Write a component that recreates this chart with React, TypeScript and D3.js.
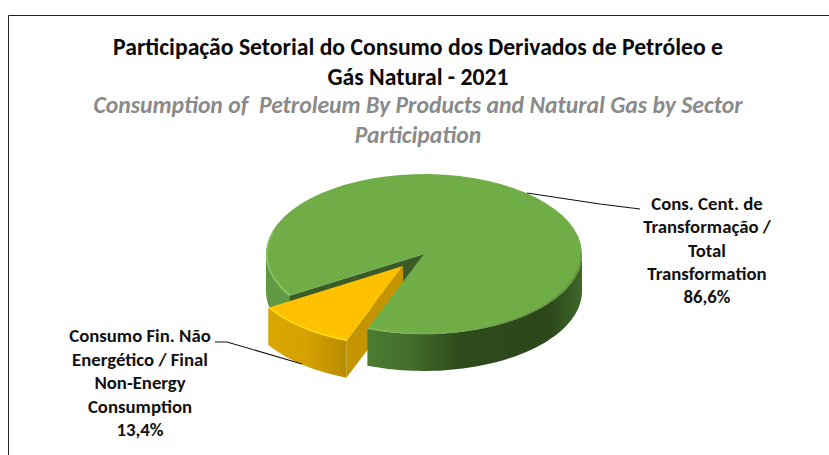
import React from "react";
import * as d3 from "d3";

const sectors = ["Consumo Fin. Não Energético", "Cons. Cent. de Transformação"];
const shares = [13.4, 86.6];
const topColors = ["#ffc000", "#70ad47"];
const titleLines = ["Participação Setorial do Consumo dos Derivados de Petróleo e", "Gás Natural - 2021"];
const subtitleLines = ["Consumption of  Petroleum By Products and Natural Gas by Sector", "Participation"];
const rightLabel = ["Cons. Cent. de", "Transformação /", "Total", "Transformation", "86,6%"];
const leftLabel = ["Consumo Fin. Não", "Energético / Final", "Non-Energy", "Consumption", "13,4%"];

const W = 829, H = 455;
const cx = 424, cy = 254, R = 158, ky = 0.506, depth = 37;
const explode = { x: -21, y: 12 };
const rad = Math.PI / 180;

// pie angle (0..2pi) -> displayed angle, allowing for the perspective foreshortening of the 3D pie
const pieData = d3.pie<number>().sort(null)(shares);
const view = d3.scaleLinear()
  .domain([0, pieData[0].endAngle, 2 * Math.PI])
  .range([201 * rad, 238.5 * rad, 561 * rad]);

const pt = (a: number, r = R, dy = 0) => [r * Math.sin(a), -r * Math.cos(a) * ky + dy] as [number, number];
const line = d3.line();
const samples = (a0: number, a1: number) => d3.range(0, 61).map(i => a0 + (a1 - a0) * i / 60);
const sidePath = (a0: number, a1: number) => {
  const s = samples(a0, a1);
  return line([...s.map(a => pt(a)), ...s.slice().reverse().map(a => pt(a, R, depth))]) + "Z";
};
const rimPath = (a0: number, a1: number, r = R - 1) => line(samples(a0, a1).map(a => pt(a, r))) || "";
const wedge = (a0: number, a1: number) =>
  line([[0, 0], ...samples(a0, a1).map(a => pt(a))]) + "Z";
const wall = (a: number) => line([[0, 0], pt(a), pt(a, R, depth), [0, depth]]) + "Z";

const stack = (lines: string[], x: number, y0: number, step: number, style: React.SVGProps<SVGTextElement>) =>
  lines.map((t, i) => <text key={i} x={x} y={y0 + i * step} textAnchor="middle" xmlSpace="preserve" {...style}>{t}</text>);

export default function App() {
  const [gold, green] = pieData;
  const gA0 = view(gold.startAngle), gA1 = view(gold.endAngle);
  const nA1 = view(green.endAngle);
  const font = "Carlito, Calibri, Lato, 'Open Sans', sans-serif";
  const lab = { fontFamily: font, fontWeight: 700, fontSize: 18.8, fill: "#111" };
  return (
    <svg width={W} height={H} style={{ position: "absolute", left: 0, top: 0, background: "#fff" }}>
      <defs>
        <linearGradient id="gs" gradientUnits="userSpaceOnUse" x1={-57} x2={158} y1={0} y2={0}>
          <stop offset="0" stopColor="#4c7d32" />
          <stop offset="0.2" stopColor="#436d2c" />
          <stop offset="0.42" stopColor="#2e4b1c" />
          <stop offset="0.85" stopColor="#2c481b" />
          <stop offset="1" stopColor="#3f682a" />
        </linearGradient>
        <linearGradient id="ys" gradientUnits="userSpaceOnUse" x1={-158} x2={-57} y1={0} y2={0}>
          <stop offset="0" stopColor="#dba700" />
          <stop offset="0.6" stopColor="#d6a200" />
          <stop offset="1" stopColor="#b88b00" />
        </linearGradient>
        <linearGradient id="rim" gradientUnits="userSpaceOnUse" x1={-60} x2={158} y1={0} y2={0}>
          <stop offset="0" stopColor="#86c05f" />
          <stop offset="1" stopColor="#5c9039" />
        </linearGradient>
      </defs>

      <path d={`M${W},15.5H8.5V${H}`} fill="none" stroke="#222" strokeWidth={1} />

      {stack(titleLines, 418, 55, 29.5, { fontFamily: font, fontWeight: 700, fontSize: 23.7, fill: "#0a0a0a" })}
      {stack(subtitleLines, 418, 113, 29.5, { fontFamily: font, fontWeight: 700, fontStyle: "italic", fontSize: 23.7, fill: "#8a8a8a" })}

      <g transform={`translate(${cx},${cy})`}>
        <path d={sidePath(gA1, 270 * rad)} fill="#5f9a42" />
        <path d={wall(gA1)} fill="#3a5c27" />
        <g transform={`translate(${explode.x},${explode.y})`}>
          <path d={wall(gA0)} fill="#c49500" />
          <path d={sidePath(gA0, gA1)} fill="url(#ys)" data-name={sectors[0]} />
          <path d={wedge(gA0, gA1)} fill={topColors[0]} />
          <path d={rimPath(gA0, gA1)} fill="none" stroke="#ffdd10" strokeWidth={1.6} />
        </g>
        <path d={sidePath(90 * rad, nA1 - 360 * rad)} fill="url(#gs)" data-name={sectors[1]} />
        <path d={wedge(gA1, nA1)} fill={topColors[1]} />
        <path d={rimPath(gA1, 270 * rad + 0.3)} fill="none" stroke="#86c05f" strokeWidth={1.6} />
        <path d={rimPath(90 * rad, nA1 - 360 * rad)} fill="none" stroke="url(#rim)" strokeWidth={1.6} />
      </g>

      <path d="M527,193L600,204L640,209" fill="none" stroke="#111" strokeWidth={1.1} />
      <path d="M215,342H227L302,364" fill="none" stroke="#111" strokeWidth={1.1} />

      {stack(rightLabel, 707, 210, 23.3, lab)}
      {stack(leftLabel, 140, 342, 23.5, lab)}
    </svg>
  );
}
